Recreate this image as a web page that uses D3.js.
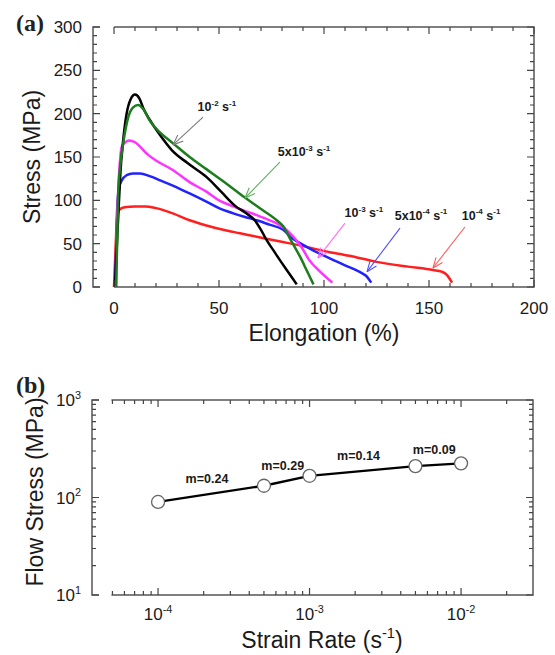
<!DOCTYPE html>
<html>
<head>
<meta charset="utf-8">
<script src="https://cdn.jsdelivr.net/npm/d3@7"></script>
<style>
  body { margin: 0; background: #fff; }
  svg { display: block; font-family: Arial, "Liberation Sans", sans-serif; }
</style>
</head>
<body>
<svg id="chart" width="555" height="655"></svg>
<script>
// ---- panel (a): stress vs elongation, one pair of arrays per strain rate ----
var elong_1e2  = [0.5, 1, 2, 3, 4.4, 6, 8, 10, 12, 14, 17, 22, 27.5, 35, 44, 51, 58, 63, 67, 70, 72.7, 76, 79, 83, 87];
var stress_1e2 = [0, 30, 80, 130, 170, 200, 217, 222, 218, 206, 193, 175, 158, 143, 127, 110, 93, 85, 77, 66, 54, 42, 31, 17, 3];

var elong_5e3  = [1, 1.5, 2, 3, 4.4, 6.8, 9, 11.5, 14, 17, 22, 28, 36, 44, 52, 58, 63, 70, 77.5, 80.6, 84, 88.6, 92, 95];
var stress_5e3 = [0, 50, 108, 140, 166, 196, 207, 210, 205, 192, 178, 166, 150, 136, 122, 111, 102, 90, 77, 70, 55, 35, 18, 3];

var elong_1e3  = [1, 1.3, 2, 3, 3.7, 5, 7, 10, 12.4, 16, 20, 28, 36, 44, 50, 56.8, 62, 68, 73, 77.5, 81, 85.4, 89, 93, 98, 104];
var stress_1e3 = [0, 60, 110, 150, 162, 166, 169, 167, 162, 153, 146, 135, 121, 110, 100, 93, 88, 83, 78, 73.5, 68, 58, 47, 31, 18, 5];

var elong_5e4  = [0.5, 1, 1.5, 2.5, 3.7, 6, 9, 12.4, 17, 22, 28, 36, 44, 50, 56.8, 62, 68, 74, 80.6, 85, 89, 95, 101, 110, 118, 120, 122.5];
var stress_5e4 = [0, 40, 90, 115, 123, 129, 131, 131, 128, 123, 117, 108, 98.5, 91, 85, 81, 77, 72, 66, 56, 50, 42, 35, 25, 16, 13, 5];

var elong_1e4  = [0, 0.5, 1, 1.5, 2.5, 5, 10, 15, 20, 28, 36, 44, 52, 60, 68, 78, 88.6, 101, 112, 125, 140, 152, 156, 158.5, 160, 161];
var stress_1e4 = [0, 30, 60, 80, 89, 92, 93, 93, 91, 85, 77, 71, 66, 62, 58, 53, 48, 41, 36, 29, 23.5, 19.6, 17.7, 14, 9, 5];

var xTicksA = [0, 50, 100, 150, 200];
var yTicksA = [0, 50, 100, 150, 200, 250, 300];

// strain-rate annotations: label parts ([text, superscript?]), label centre, arrow tail, arrow tip (data units)
var noteLabels = [
  [["10", 0], ["-2", 1], [" s", 0], ["-1", 1]],
  [["5x10", 0], ["-3", 1], [" s", 0], ["-1", 1]],
  [["10", 0], ["-3", 1], [" s", 0], ["-1", 1]],
  [["5x10", 0], ["-4", 1], [" s", 0], ["-1", 1]],
  [["10", 0], ["-4", 1], [" s", 0], ["-1", 1]]
];
var noteAt   = [[49, 208], [90.5, 156], [119, 85.4], [146.2, 83], [174.8, 83]];
var noteTail = [[42.4, 196], [79, 144], [110, 73.8], [136.2, 68], [167.1, 69.2]];
var noteTip  = [[28.1, 164], [62.4, 102.7], [97.1, 33.5], [120.5, 17.7], [151.9, 21.9]];

// ---- panel (b): flow stress vs strain rate ----
var rates = [1e-4, 5e-4, 1e-3, 5e-3, 1e-2];
var flowStress = [90, 132, 167, 210, 224];
var mLabels = ["m=0.24", "m=0.29", "m=0.14", "m=0.09"];
var xTicksB = [1e-4, 1e-3, 1e-2], xTickExpB = ["-4", "-3", "-2"];
var yTicksB = [10, 100, 1000],    yTickExpB = ["1", "2", "3"];

// ---- styles ----
var curveColors = ["#000000", "#1b7d1b", "#ff33ff", "#2222ff", "#ff1f1f"];
var arrowColors = ["#7a7a7a", "#5fae5f", "#ff6aff", "#5050ff", "#ff5a5a"];
var frameColor = "#555", tickColor = "#444", textColor = "#1a1a1a";

var svg = d3.select("#chart");

// text built from parts with superscripts
function partsText(sel, parts, size) {
  var up = size * 0.42;
  parts.forEach(function(p, i) {
    var t = sel.append("tspan").text(p[0]);
    if (p[1]) {
      t.attr("font-size", size * 0.64).attr("dy", -up);
    } else if (i > 0 && parts[i - 1][1]) {
      t.attr("dy", up);
    }
  });
}

// frame (as one path) with the little gap between left axis and the x axes
function drawFrame(g, x, y, gapEnd) {
  var x0 = x.range()[0], x1 = x.range()[1], y0 = y.range()[0], y1 = y.range()[1];
  var p = d3.path();
  p.moveTo(x0 + 7, y1); p.lineTo(x0, y1); p.lineTo(x0, y0); p.lineTo(x0 + 7, y0);
  p.moveTo(gapEnd, y1); p.lineTo(x1, y1); p.lineTo(x1, y0); p.lineTo(gapEnd, y0);
  g.append("path").attr("d", p.toString())
    .attr("fill", "none").attr("stroke", frameColor).attr("stroke-width", 1.5);
}

// inward ticks on all four sides, one path, positions from the scales
function drawTicks(g, x, y, xv, yv, xMajor, yMajor) {
  var x0 = x.range()[0], x1 = x.range()[1], y0 = y.range()[0], y1 = y.range()[1];
  var p = d3.path();
  xv.forEach(function(d) {
    var px = x(d), len = xMajor(d) ? 7 : 4;
    p.moveTo(px, y0); p.lineTo(px, y0 - len);
    p.moveTo(px, y1); p.lineTo(px, y1 + len);
  });
  yv.forEach(function(d) {
    var py = y(d), len = yMajor(d) ? 7 : 4;
    p.moveTo(x0, py); p.lineTo(x0 + len, py);
    p.moveTo(x1, py); p.lineTo(x1 - len, py);
  });
  g.append("path").attr("d", p.toString())
    .attr("fill", "none").attr("stroke", tickColor).attr("stroke-width", 1.2);
}

// ================= panel (a) =================
var xA = d3.scaleLinear().domain([-10, 200]).range([93, 534]);
var yA = d3.scaleLinear().domain([0, 300]).range([287, 27]);
var gA = svg.append("g");

var lineA = d3.line()
  .curve(d3.curveMonotoneX)
  .x(function(d) { return xA(d[0]); })
  .y(function(d) { return yA(d[1]); });

var curves = [
  [elong_1e4, stress_1e4, 4],
  [elong_5e4, stress_5e4, 3],
  [elong_1e3, stress_1e3, 2],
  [elong_1e2, stress_1e2, 0],
  [elong_5e3, stress_5e3, 1]
];
curves.forEach(function(c) {
  gA.append("path")
    .attr("d", lineA(d3.zip(c[0], c[1])))
    .attr("fill", "none")
    .attr("stroke", curveColors[c[2]])
    .attr("stroke-width", 2.5)
    .attr("stroke-linejoin", "round");
});

// annotations with open arrowheads
noteLabels.forEach(function(parts, i) {
  var tx = xA(noteTail[i][0]), ty = yA(noteTail[i][1]);
  var px = xA(noteTip[i][0]), py = yA(noteTip[i][1]);
  var ang = Math.atan2(py - ty, px - tx), len = 11, spread = 0.38;
  var arrow = gA.append("g").attr("stroke", arrowColors[i]).attr("stroke-width", 1.1).attr("fill", "none");
  arrow.append("line").attr("x1", tx).attr("y1", ty).attr("x2", px).attr("y2", py);
  [-spread, spread].forEach(function(s) {
    arrow.append("line").attr("x1", px).attr("y1", py)
      .attr("x2", px - len * Math.cos(ang + s))
      .attr("y2", py - len * Math.sin(ang + s));
  });
  var t = gA.append("text")
    .attr("x", xA(noteAt[i][0])).attr("y", yA(noteAt[i][1]))
    .attr("dy", "0.36em")
    .attr("text-anchor", "middle")
    .attr("font-size", 12.5).attr("font-weight", "bold")
    .attr("fill", textColor);
  partsText(t, parts, 12.5);
});

drawFrame(gA, xA, yA, xA(0));
drawTicks(gA, xA, yA, d3.range(0, 201, 10), d3.range(0, 301, 10),
  function(d) { return d % 50 === 0; }, function(d) { return d % 50 === 0; });

gA.append("g").selectAll("text").data(xTicksA).enter().append("text")
  .attr("x", function(d) { return xA(d); }).attr("y", 314)
  .attr("text-anchor", "middle").attr("font-size", 17).attr("fill", textColor)
  .text(function(d) { return d; });
gA.append("g").selectAll("text").data(yTicksA).enter().append("text")
  .attr("x", 82).attr("y", function(d) { return yA(d); }).attr("dy", "0.36em")
  .attr("text-anchor", "end").attr("font-size", 17).attr("fill", textColor)
  .text(function(d) { return d; });

gA.append("text").attr("x", xA(100)).attr("y", 341)
  .attr("text-anchor", "middle").attr("font-size", 23).attr("fill", textColor)
  .text("Elongation (%)");
gA.append("text").attr("transform", "translate(32,157) rotate(-90)")
  .attr("dy", "0.36em").attr("text-anchor", "middle").attr("font-size", 23).attr("fill", textColor)
  .text("Stress (MPa)");
gA.append("text").attr("x", 16).attr("y", 31)
  .attr("font-family", "'Liberation Serif', 'DejaVu Serif', serif")
  .attr("font-weight", "bold").attr("font-size", 24).attr("fill", "#222")
  .text("(a)");

// ================= panel (b) =================
var xB = d3.scaleLog().domain([Math.pow(10, -4.436), Math.pow(10, -1.525)]).range([92, 533]);
var yB = d3.scaleLog().domain([10, 1000]).range([595, 400]);
var gB = svg.append("g");

var xMinorB = [], yMinorB = [];
[-5, -4, -3, -2].forEach(function(e) {
  d3.range(1, 10).forEach(function(k) {
    var v = k * Math.pow(10, e);
    if (v > 4.5e-5 && v < xB.domain()[1] * 0.98) xMinorB.push(v);
  });
});
[1, 2].forEach(function(e) {
  d3.range(1, 10).forEach(function(k) { yMinorB.push(k * Math.pow(10, e)); });
});
yMinorB.push(1000);

function isDecade(d) { return Math.abs(Math.log10(d) - Math.round(Math.log10(d))) < 1e-6; }

gB.append("path")
  .attr("d", d3.line()
    .x(function(d) { return xB(d[0]); })
    .y(function(d) { return yB(d[1]); })(d3.zip(rates, flowStress)))
  .attr("fill", "none").attr("stroke", "#000").attr("stroke-width", 2.3);

gB.append("g").selectAll("circle").data(d3.zip(rates, flowStress)).enter().append("circle")
  .attr("cx", function(d) { return xB(d[0]); })
  .attr("cy", function(d) { return yB(d[1]); })
  .attr("r", 6.5)
  .attr("fill", "#fff").attr("stroke", "#666").attr("stroke-width", 1.3);

gB.append("g").selectAll("text").data(mLabels).enter().append("text")
  .attr("x", function(d, i) { return (xB(rates[i]) + xB(rates[i + 1])) / 2 - 4; })
  .attr("y", function(d, i) { return (yB(flowStress[i]) + yB(flowStress[i + 1])) / 2 - 15; })
  .attr("dy", "0.36em")
  .attr("text-anchor", "middle").attr("font-size", 12.5).attr("font-weight", "bold")
  .attr("fill", textColor)
  .text(function(d) { return d; });

drawFrame(gB, xB, yB, xB(5e-5) - 1);
drawTicks(gB, xB, yB, xMinorB, yMinorB, isDecade, isDecade);

xTicksB.forEach(function(v, i) {
  var t = gB.append("text").attr("x", xB(v)).attr("y", 620)
    .attr("text-anchor", "middle").attr("font-size", 17).attr("fill", textColor);
  partsText(t, [["10", 0], [xTickExpB[i], 1]], 17);
});
yTicksB.forEach(function(v, i) {
  var t = gB.append("text").attr("x", 81).attr("y", yB(v)).attr("dy", "0.36em")
    .attr("text-anchor", "end").attr("font-size", 17).attr("fill", textColor);
  partsText(t, [["10", 0], [yTickExpB[i], 1]], 17);
});

var xt = gB.append("text").attr("x", 322).attr("y", 648)
  .attr("text-anchor", "middle").attr("font-size", 23).attr("fill", textColor);
partsText(xt, [["Strain Rate (s", 0], ["-1", 1], [")", 0]], 23);

gB.append("text").attr("transform", "translate(35,492) rotate(-90)")
  .attr("dy", "0.36em").attr("text-anchor", "middle").attr("font-size", 23).attr("fill", textColor)
  .text("Flow Stress (MPa)");
gB.append("text").attr("x", 16).attr("y", 393)
  .attr("font-family", "'Liberation Serif', 'DejaVu Serif', serif")
  .attr("font-weight", "bold").attr("font-size", 24).attr("fill", "#222")
  .text("(b)");
</script>
</body>
</html>
